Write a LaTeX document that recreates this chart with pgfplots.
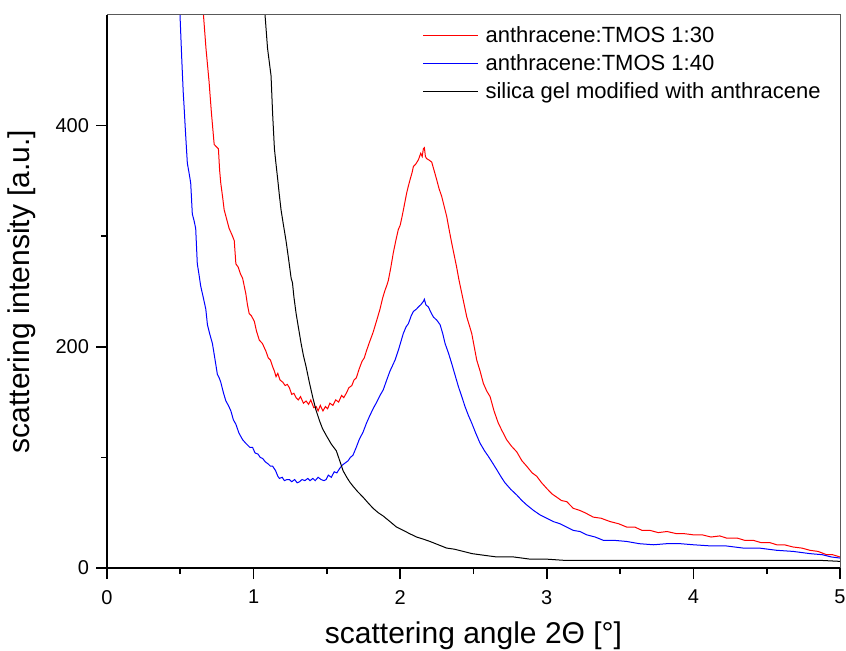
\documentclass[border=0pt]{standalone}
\usepackage{fontspec}
\setmainfont{Liberation Sans}
\usepackage{pgfplots}
\pgfplotsset{compat=1.18}

\pgfplotstableread{
x y
0.620 560
0.658 500
0.675 470
0.696 440
0.712 412
0.731 383
0.745 381
0.760 379
0.768 360
0.776 348
0.789 335
0.799 324
0.815 316
0.833 307
0.850 302
0.868 296
0.879 275
0.895 272
0.910 266
0.925 262
0.936 255
0.947 248
0.958 238
0.970 230
0.985 228
1.005 223
1.020 214
1.039 206
1.060 203
1.084 196
1.100 190
1.115 188
1.130 182
1.142 178
1.153 173
1.165 176
1.180 170
1.199 168
1.215 165
1.230 166
1.244 163
1.260 157
1.275 158
1.290 154
1.305 152
1.320 155
1.340 149
1.358 151
1.375 148
1.390 152
1.410 145
1.427 146
1.440 142
1.455 147
1.473 142
1.490 146
1.505 144
1.520 149
1.541 147
1.560 152
1.580 150
1.600 156
1.615 154
1.632 158
1.650 163
1.670 165
1.685 170
1.701 172
1.720 180
1.740 187
1.755 190
1.769 196
1.790 204
1.815 213
1.840 224
1.862 234
1.880 244
1.896 251
1.910 256
1.919 260
1.935 271
1.953 285
1.970 296
1.987 306
2.000 310
2.010 316
2.025 326
2.044 339
2.055 345
2.067 351
2.080 357
2.090 363
2.105 365
2.124 369
2.140 375
2.150 372
2.158 379
2.165 380
2.172 372
2.181 370
2.195 369
2.215 367
2.230 360
2.249 351
2.265 343
2.283 336
2.300 327
2.317 318
2.335 305
2.351 294
2.368 283
2.385 272
2.400 261
2.419 249
2.435 239
2.454 227
2.470 220
2.488 212
2.505 200
2.522 188
2.545 178
2.567 167
2.590 160
2.613 155
2.640 142
2.669 131
2.695 124
2.726 116
2.760 110
2.795 105
2.830 97
2.863 92
2.900 86
2.931 83
2.965 77
2.999 72
3.035 67
3.068 64
3.100 61
3.136 60
3.158 57
3.180 54
3.226 52
3.260 50
3.317 46
3.370 45
3.431 42
3.490 40
3.545 37
3.600 37
3.650 34
3.704 34
3.760 32
3.820 33
3.886 31
3.940 31
3.999 30
4.060 30
4.120 28
4.180 29
4.227 27
4.300 27
4.350 25
4.409 25
4.460 23
4.520 23
4.568 21
4.620 21
4.680 19
4.740 18
4.795 16
4.850 15
4.909 12
4.950 12
5.000 10
}\redtab

\pgfplotstableread{
x y
0.480 560
0.498 500
0.510 460
0.520 430
0.525 419
0.535 395
0.548 366
0.560 357
0.571 348
0.582 320
0.594 314
0.605 307
0.616 275
0.628 265
0.639 255
0.656 245
0.674 234
0.685 220
0.700 212
0.719 203
0.735 190
0.753 175
0.765 172
0.776 168
0.795 158
0.811 151
0.828 147
0.845 142
0.862 134
0.879 130
0.900 122
0.925 116
0.945 113
0.960 111
0.975 109
0.993 109
1.010 104
1.030 103
1.045 100
1.062 99
1.080 96
1.100 94
1.115 92
1.130 92
1.150 88
1.165 83
1.176 81
1.195 82
1.210 79
1.228 80
1.244 80
1.260 78
1.280 80
1.297 77
1.313 78
1.330 80
1.350 79
1.370 81
1.385 79
1.404 81
1.420 79
1.440 82
1.460 80
1.480 79
1.495 80
1.510 84
1.530 82
1.550 87
1.568 86
1.587 90
1.605 93
1.625 95
1.645 97
1.660 100
1.678 102
1.700 109
1.720 116
1.747 123
1.770 131
1.790 137
1.815 144
1.840 150
1.862 156
1.884 161
1.908 170
1.930 178
1.965 188
1.990 198
2.021 212
2.040 218
2.056 221
2.075 228
2.090 232
2.110 234
2.124 236
2.140 238
2.158 241
2.165 243
2.175 238
2.192 236
2.210 231
2.226 227
2.250 224
2.272 220
2.290 212
2.306 203
2.330 194
2.351 185
2.375 174
2.397 164
2.420 155
2.442 146
2.465 138
2.488 131
2.515 122
2.544 113
2.575 106
2.601 101
2.630 95
2.658 89
2.690 82
2.715 77
2.755 71
2.795 66
2.830 61
2.863 57
2.910 52
2.954 48
3.000 45
3.044 42
3.090 40
3.136 37
3.181 34
3.226 33
3.272 30
3.330 28
3.386 25
3.460 25
3.545 24
3.630 22
3.727 21
3.820 22
3.909 22
4.000 21
4.113 20
4.220 20
4.341 18
4.450 18
4.568 16
4.680 15
4.795 13
4.880 12
4.940 10
5.000 9
}\bluetab

\pgfplotstableread{
x y
1.060 560
1.078 500
1.095 470
1.119 445
1.130 410
1.142 379
1.153 365
1.164 352
1.175 338
1.187 324
1.200 313
1.221 296
1.238 280
1.256 262
1.265 258
1.275 245
1.290 230
1.305 218
1.324 203
1.340 192
1.358 182
1.380 168
1.404 154
1.425 143
1.450 133
1.470 126
1.495 120
1.530 112
1.564 106
1.590 96
1.610 88
1.640 81
1.660 77
1.678 74
1.710 69
1.747 64
1.780 59
1.815 54
1.850 50
1.884 47
1.930 42
1.975 37
2.021 34
2.065 31
2.112 28
2.160 26
2.203 24
2.260 21
2.317 18
2.370 17
2.430 15
2.490 13
2.544 12
2.600 11
2.658 10
2.720 10
2.772 10
2.830 9
2.885 8
2.940 8
3.000 8
3.110 7
3.226 7
3.350 7
3.500 7
3.650 7
3.800 7
3.950 7
4.100 7
4.250 7
4.400 7
4.550 7
4.700 7
4.850 7
5.000 6
}\blacktab

\begin{document}
\begin{tikzpicture}
\begin{axis}[
    scale only axis,
    width=366.5pt, height=276.5pt,
    xmin=0, xmax=5, ymin=0, ymax=500,
    xtick={0,1,2,3,4,5}, minor x tick num=1,
    ytick={0,200,400}, minor y tick num=1,
    axis x line*=bottom, axis y line*=left,
    axis line style={-, line width=0.85pt},
    tick align=outside,
    major tick length=5.5pt, minor tick length=3pt,
    tick style={black, line width=0.85pt},
    /pgf/number format/assume math mode=true,
    tick label style={font=\fontsize{10}{12}\selectfont},
    xticklabel style={yshift=-2pt},
    xlabel={scattering angle 2Θ [°]},
    ylabel={scattering intensity [a.u.]},
    label style={font=\fontsize{15}{18}\selectfont},
    xlabel style={at={(axis description cs:0.5,-0.123)}, anchor=center},
    ylabel style={at={(axis description cs:-0.116,0.5)}, anchor=center},
    legend style={draw=none, fill=none, at={(rel axis cs:0.43,0.984)}, anchor=north west,
        font=\fontsize{11}{13}\selectfont, row sep=2.5pt, inner sep=0pt,
        nodes={inner xsep=3.5pt, inner ysep=1pt}},
    legend cell align=left,
    legend image code/.code={\draw[#1] (0pt,0pt) -- (27.5pt,0pt);},
    after end axis/.code={
        \draw[gray!70!black, line width=0.5pt] (rel axis cs:0,1) -- (rel axis cs:1,1) -- (rel axis cs:1,0);
        \coordinate (bl) at (rel axis cs:0,0);
        \coordinate (tr) at (rel axis cs:1,1);
    },
]
\addplot[red, line width=0.5pt] table[x=x, y=y] {\redtab};
\addlegendentry{anthracene:TMOS 1:30}
\addplot[blue, line width=0.5pt] table[x=x, y=y] {\bluetab};
\addlegendentry{anthracene:TMOS 1:40}
\addplot[black, line width=0.5pt] table[x=x, y=y] {\blacktab};
\addlegendentry{silica gel modified with anthracene}
\end{axis}
\pgfresetboundingbox
\path[use as bounding box] ([shift={(-53.5pt,-41pt)}]bl) rectangle ([shift={(3pt,7.5pt)}]tr);
\end{tikzpicture}
\end{document}
